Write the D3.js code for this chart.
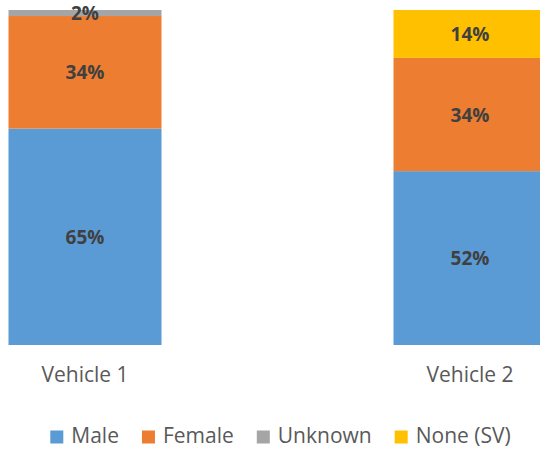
<!DOCTYPE html>
<meta charset="utf-8" />
<script src="https://d3js.org/d3.v7.js"></script>
<style>
  body { margin: 0; background: #fff; }
  text { font-family: "Open Sans", sans-serif; }
</style>
<div id="my_dataviz"></div>
<script>
  // data (share of each vehicle, in %)
  const vehicles = ["Vehicle 1", "Vehicle 2"];
  const seriesNames = ["Male", "Female", "Unknown", "None (SV)"];
  const seriesColors = ["#5b9bd5", "#ed7d31", "#a5a5a5", "#ffc000"];
  const male = [64.6, 51.9];
  const female = [33.6, 33.8];
  const unknown = [1.8, 0];
  const noneSV = [0, 14.3];

  const width = 540, height = 449;

  const rows = vehicles.map((v, i) => ({
    vehicle: v,
    "Male": male[i],
    "Female": female[i],
    "Unknown": unknown[i],
    "None (SV)": noneSV[i]
  }));

  const svg = d3
    .select("#my_dataviz")
    .append("svg")
    .attr("width", width)
    .attr("height", height);

  // bar centres
  const x = d3.scalePoint().domain(vehicles).range([85, 470]);
  const barWidth = 153;
  const y = d3.scaleLinear().domain([0, 100]).range([345, 10]);
  const color = d3.scaleOrdinal().domain(seriesNames).range(seriesColors);

  const stacked = d3.stack().keys(seriesNames)(rows);

  const layers = svg
    .append("g")
    .selectAll("g")
    .data(stacked)
    .join("g")
    .attr("fill", (d) => color(d.key));

  layers
    .selectAll("rect")
    .data((d) => d)
    .join("rect")
    .attr("x", (d) => x(d.data.vehicle) - barWidth / 2)
    .attr("y", (d) => y(d[1]))
    .attr("width", barWidth)
    .attr("height", (d) => y(d[0]) - y(d[1]));

  // value labels
  layers
    .selectAll("text")
    .data((d) => d.filter((s) => s[1] - s[0] > 0))
    .join("text")
    .attr("x", (d) => x(d.data.vehicle))
    .attr("y", (d) => (y(d[0]) + y(d[1])) / 2 + 2)
    .attr("text-anchor", "middle")
    .attr("dominant-baseline", "middle")
    .style("font-size", "19px")
    .style("font-weight", "bold")
    .style("fill", "#404040")
    .text((d) => Math.round(d[1] - d[0]) + "%");

  // category labels
  svg
    .append("g")
    .selectAll("text")
    .data(vehicles)
    .join("text")
    .attr("x", (d) => x(d))
    .attr("y", 382)
    .attr("text-anchor", "middle")
    .style("font-size", "21px")
    .style("fill", "#595959")
    .text((d) => d);

  // legend
  const legend = svg.append("g");
  const items = legend
    .selectAll("g")
    .data(seriesNames)
    .join("g");
  items
    .append("rect")
    .attr("width", 13)
    .attr("height", 13)
    .attr("y", -12.5)
    .attr("fill", (d) => color(d));
  items
    .append("text")
    .attr("x", 21)
    .attr("y", 0)
    .style("font-size", "21px")
    .style("fill", "#595959")
    .text((d) => d);

  let offset = 0;
  items.each(function () {
    const w = 21 + d3.select(this).select("text").node().getComputedTextLength();
    d3.select(this).attr("transform", `translate(${offset},0)`);
    offset += w + 23;
  });
  const legendWidth = offset - 23;
  legend.attr("transform", `translate(${280.5 - legendWidth / 2},443)`);
</script>
